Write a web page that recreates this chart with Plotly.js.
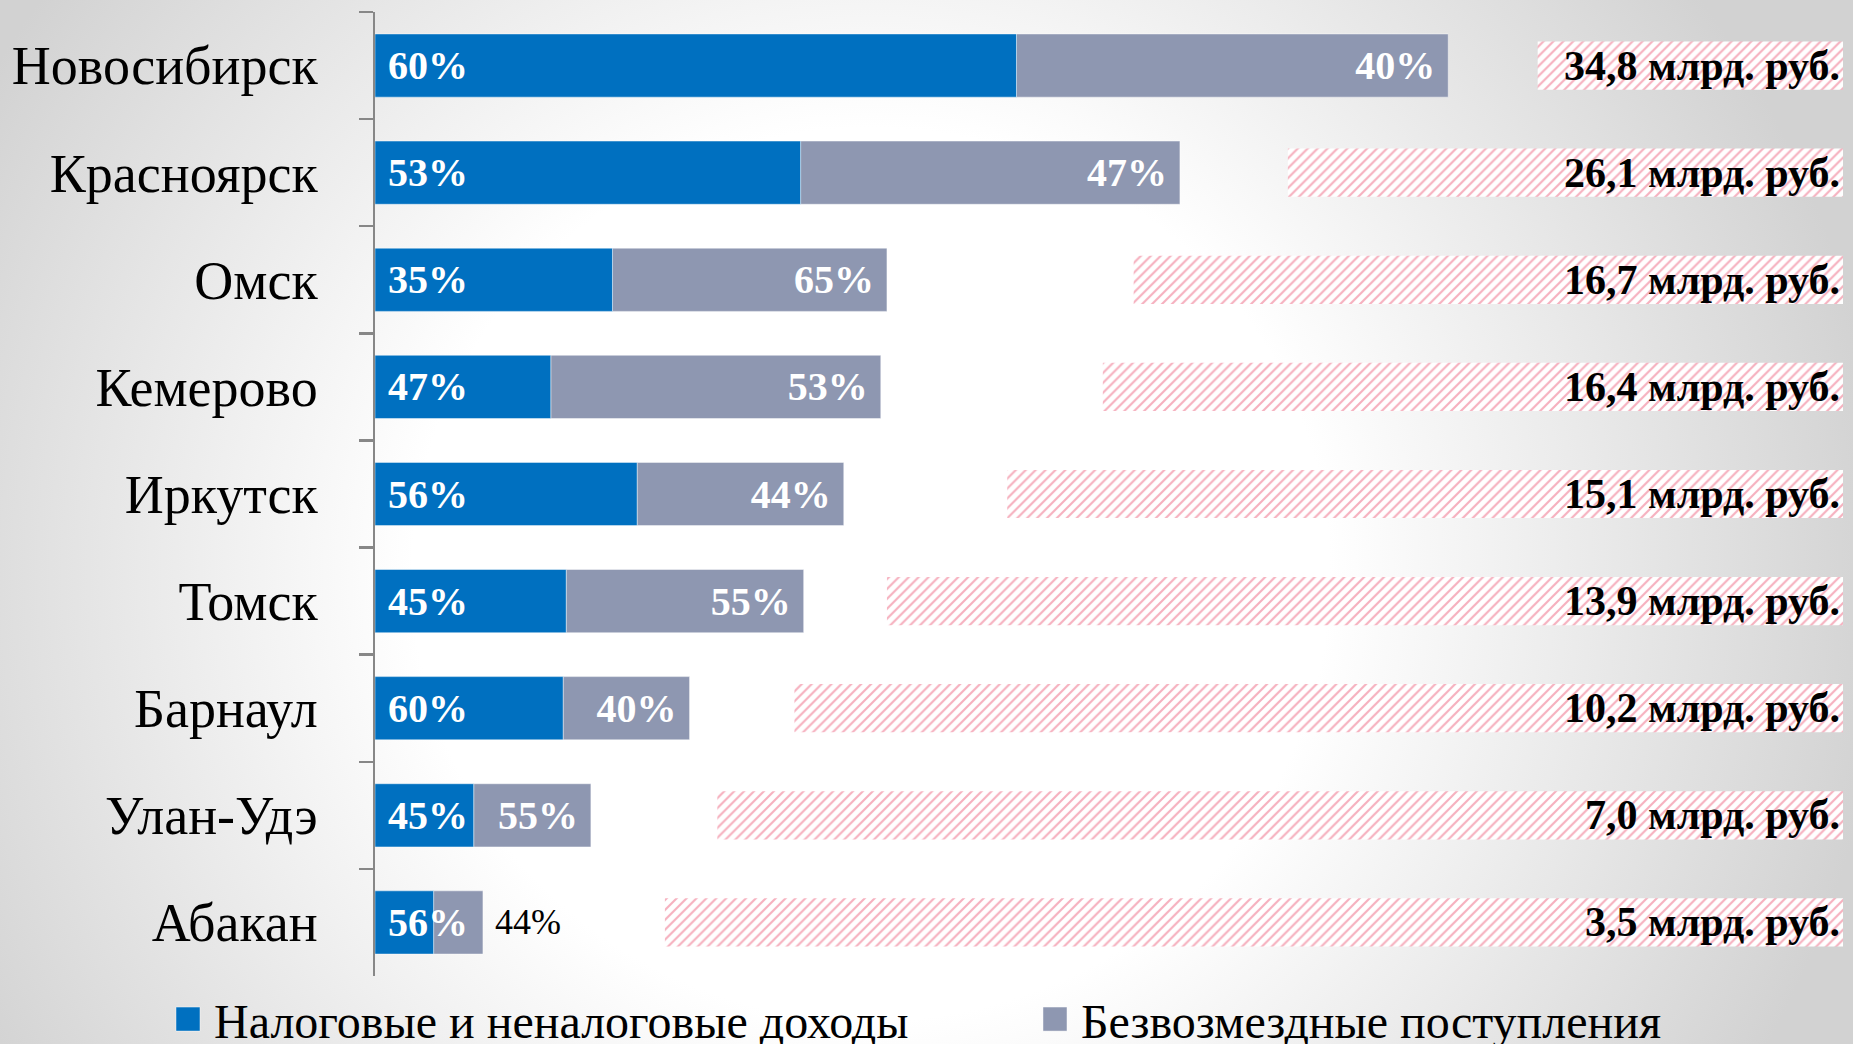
<!DOCTYPE html>
<html><head><meta charset="utf-8">
<script src="https://cdn.plot.ly/plotly-3.0.1.min.js"></script>
<style>
html,body{margin:0;padding:0;width:1853px;height:1044px;overflow:hidden;
background: radial-gradient(ellipse 55% 95% at 47% 55%, #ffffff 45%, #d2d2d2 100%);}
#chart{width:1853px;height:1044px;}
</style></head><body><div id="chart"></div>
<script>
const cities = ['Новосибирск','Красноярск','Омск','Кемерово','Иркутск','Томск','Барнаул','Улан-Удэ','Абакан'];
// bar lengths, billion rubles (as drawn)
const ownRevenue = [20.8, 13.8, 7.7, 5.7, 8.5, 6.2, 6.1, 3.2, 1.9];
const transfers  = [14.0, 12.3, 8.9, 10.7, 6.7, 7.7, 4.1, 3.8, 1.6];
// labels as printed
const ownLabels      = ['60%','53%','35%','47%','56%','45%','60%','45%','56%'];
const transferLabels = ['40%','47%','65%','53%','44%','55%','40%','55%','44%'];
const budgetTotals   = [34.8, 26.1, 16.7, 16.4, 15.1, 13.9, 10.2, 7.0, 3.5];
// left edge of the hatched total band, in bar units
const bandStart = [37.7, 29.6, 24.6, 23.6, 20.5, 16.6, 13.6, 11.1, 9.4];
const seriesNames = ['Налоговые и неналоговые доходы', 'Безвозмездные поступления'];
const X_MAX = 47.6;

const FONT = 'Liberation Serif, Times New Roman, serif';
const NB = '\u00a0';
const last = cities.length - 1;

// transfers drawn first (stacked on top of own revenue via base), own revenue drawn above it
const transferTrace = {
  type:'bar', orientation:'h', name:seriesNames[1], legendrank:2,
  y:cities, x:transfers, base:ownRevenue, width:0.59,
  marker:{color:'#8E97B1', line:{color:'rgba(255,255,255,0.45)', width:1}},
  text:transferLabels.map((l,i) => i === last ? NB + l : l + NB),
  textposition:transferLabels.map((l,i) => i === last ? 'outside' : 'inside'),
  insidetextanchor:'end', constraintext:'none', textangle:0, cliponaxis:false,
  insidetextfont:{family:FONT, size:40, color:'#ffffff', weight:'bold'},
  outsidetextfont:{family:FONT, size:36, color:'#000000'},
  hoverinfo:'skip'
};
const ownTrace = {
  type:'bar', orientation:'h', name:seriesNames[0], legendrank:1,
  y:cities, x:ownRevenue, width:0.59,
  marker:{color:'#0070C0', line:{color:'rgba(255,255,255,0.45)', width:1}},
  text:ownLabels.map(l => NB + l), textposition:'inside', insidetextanchor:'start',
  constraintext:'none', textangle:0, cliponaxis:false,
  textfont:{family:FONT, size:40, color:'#ffffff', weight:'bold'},
  hoverinfo:'skip'
};
const bandTrace = {
  type:'bar', orientation:'h', xaxis:'x2', yaxis:'y', showlegend:false,
  y:cities, base:bandStart, x:bandStart.map(s => X_MAX - s), width:0.45,
  marker:{color:'#ffffff', line:{width:0},
    pattern:{shape:'/', fgcolor:'#f6b0be', bgcolor:'#ffffff', size:7, solidity:0.3}},
  text:budgetTotals.map(v => v.toFixed(1).replace('.', ',') + ' млрд. руб.'),
  textposition:'inside', insidetextanchor:'end', constraintext:'none', textangle:0, cliponaxis:false,
  textfont:{family:FONT, size:42, color:'#000000', weight:'bold'},
  hoverinfo:'skip'
};

const layout = {
  width:1853, height:1044,
  margin:{l:375, r:10, t:12, b:68, autoexpand:false},
  paper_bgcolor:'rgba(0,0,0,0)', plot_bgcolor:'rgba(0,0,0,0)',
  barmode:'overlay',
  font:{family:FONT, color:'#000000'},
  xaxis:{range:[0, X_MAX], visible:false, fixedrange:true},
  xaxis2:{range:[0, X_MAX], overlaying:'x', visible:false, fixedrange:true},
  yaxis:{type:'category', autorange:'reversed', showline:true, linecolor:'#878787', linewidth:2.5,
    ticks:'outside', tickson:'boundaries', ticklen:14, tickwidth:2.5, tickcolor:'#878787',
    tickfont:{family:FONT, size:54, color:'#000000'}, ticklabelstandoff:44,
    showgrid:false, zeroline:false, fixedrange:true},
  showlegend:true,
  legend:{orientation:'h', x:-0.1451, xanchor:'left', y:-0.045, yanchor:'middle',
    font:{family:FONT, size:48, color:'#000000'}, traceorder:'normal', itemwidth:42,
    entrywidth:810, entrywidthmode:'pixels', bgcolor:'rgba(0,0,0,0)'}
};

const gd = document.getElementById('chart');
function enlargeLegendSquares() {
  gd.querySelectorAll('.legend .legendpoints path').forEach(p => p.setAttribute('d', 'M12,12H-12V-12H12Z'));
}
Plotly.newPlot(gd, [bandTrace, transferTrace, ownTrace], layout, {displayModeBar:false, staticPlot:true})
  .then(() => {
    enlargeLegendSquares();
    gd.on('plotly_afterplot', enlargeLegendSquares);
    setTimeout(enlargeLegendSquares, 50);
    setTimeout(enlargeLegendSquares, 300);
  });
</script></body></html>
